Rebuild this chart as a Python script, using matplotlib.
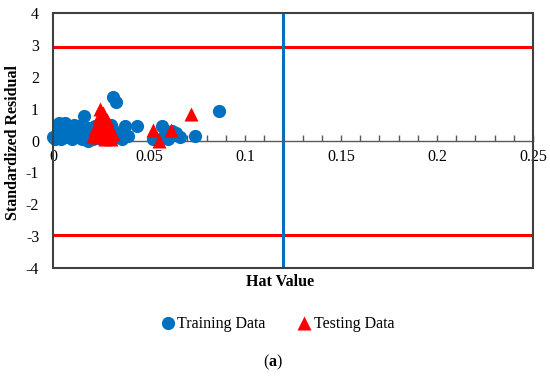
import numpy as np
import matplotlib.pyplot as plt
from matplotlib.patches import Rectangle

plt.rcParams['font.family'] = 'Liberation Serif'
plt.rcParams['mathtext.fontset'] = 'custom'
plt.rcParams['mathtext.rm'] = 'Liberation Serif'
plt.rcParams['mathtext.bf'] = 'Liberation Serif:bold'
plt.rcParams['axes.unicode_minus'] = False

# training data (hat value, standardized residual)
train_h = [0.000, 0.001, 0.002, 0.003, 0.003, 0.003, 0.004, 0.005, 0.006, 0.006,
           0.007, 0.008, 0.009, 0.009, 0.010, 0.011, 0.012, 0.013, 0.013, 0.014,
           0.015, 0.016, 0.017, 0.018, 0.018, 0.019, 0.020, 0.021, 0.022, 0.023,
           0.024, 0.025, 0.026, 0.027, 0.028, 0.029, 0.030, 0.031, 0.032, 0.033,
           0.034, 0.035, 0.036, 0.0375, 0.039, 0.044, 0.052, 0.0566, 0.058, 0.060,
           0.062, 0.064, 0.066, 0.074, 0.0866]
train_r = [0.10, 0.05, 0.15, 0.35, 0.55, 0.20, 0.05, 0.50, 0.25, 0.55,
           0.10, 0.45, 0.30, 0.10, 0.05, 0.50, 0.20, 0.10, 0.45, 0.35,
           0.05, 0.76, 0.25, 0.40, 0.00, 0.10, 0.30, 0.05, 0.45, 0.15,
           0.30, 0.05, 0.10, 0.40, 0.20, 0.05, 0.50, 1.38, 0.30, 1.20,
           0.10, 0.25, 0.05, 0.45, 0.15, 0.45, 0.05, 0.45, 0.15, 0.05,
           0.30, 0.25, 0.10, 0.13, 0.92]

# testing data
test_h = [0.021, 0.022, 0.023, 0.024, 0.0245, 0.025, 0.025, 0.026, 0.026, 0.027,
          0.028, 0.028, 0.029, 0.030, 0.030, 0.031, 0.052, 0.055, 0.0615, 0.072]
test_r = [0.15, 0.35, 0.10, 0.75, 1.00, 0.55, 0.30, 0.20, 0.85, 0.05,
          0.40, 0.65, 0.15, 0.30, 0.05, 0.20, 0.32, 0.00, 0.32, 0.84]

h_star = 0.12
r_limit = 2.95

blue = '#0070C0'
red = '#FF0000'

fig = plt.figure(figsize=(5.5, 3.76), dpi=100)
ax = fig.add_axes([0.0964, 0.287, 0.8727, 0.6782])

ax.axhline(r_limit, color=red, lw=2.2, zorder=1)
ax.axhline(-r_limit, color=red, lw=2.2, zorder=1)
ax.axvline(h_star, color=blue, lw=2.2, zorder=1)

ax.plot(train_h, train_r, 'o', color=blue, ms=9.5, mec='none', clip_on=False,
        zorder=3, label='Training Data')
ax.plot(test_h, test_r, '^', color=red, ms=9.5, mec='none', clip_on=False,
        zorder=4, label='Testing Data')

ax.set_xlim(0, 0.25)
ax.set_ylim(-4, 4)
ax.set_xticks(np.arange(0, 0.251, 0.05))
ax.set_xticklabels(['0', '0.05', '0.1', '0.15', '0.2', '0.25'])
ax.set_xticks(np.arange(0, 0.251, 0.01), minor=True)
ax.set_yticks(range(-4, 5))

for s in ['top', 'right', 'left']:
    ax.spines[s].set_visible(False)
ax.spines['bottom'].set_position(('data', 0))
ax.spines['bottom'].set_color('#595959')
ax.spines['bottom'].set_linewidth(1.0)
ax.add_patch(Rectangle((0, 0), 1, 1, transform=ax.transAxes, fill=False,
                       ec='#404040', lw=1.5, clip_on=False, zorder=5))

ax.tick_params(axis='x', which='both', direction='in', length=4, width=1,
               color='#595959', labelsize=11.5, pad=6)
ax.tick_params(axis='y', length=0, labelsize=11.5, pad=10)

fig.text(0.024, 0.62, 'Standardized Residual', rotation=90, ha='center',
         va='center', fontsize=11.5, fontweight='bold')
fig.text(0.51, 0.25, 'Hat Value', ha='center', va='center', fontsize=11.5,
         fontweight='bold')

fig.legend(loc='center', bbox_to_anchor=(0.505, 0.138), ncol=2, frameon=False,
           fontsize=11.5, handlelength=0.8, handletextpad=0.2, columnspacing=2.0,
           markerscale=1.0)

fig.text(0.497, 0.037, r'($\mathbf{a}$)', ha='center', va='center', fontsize=11.5)

fig.savefig('out.png', dpi=100)
